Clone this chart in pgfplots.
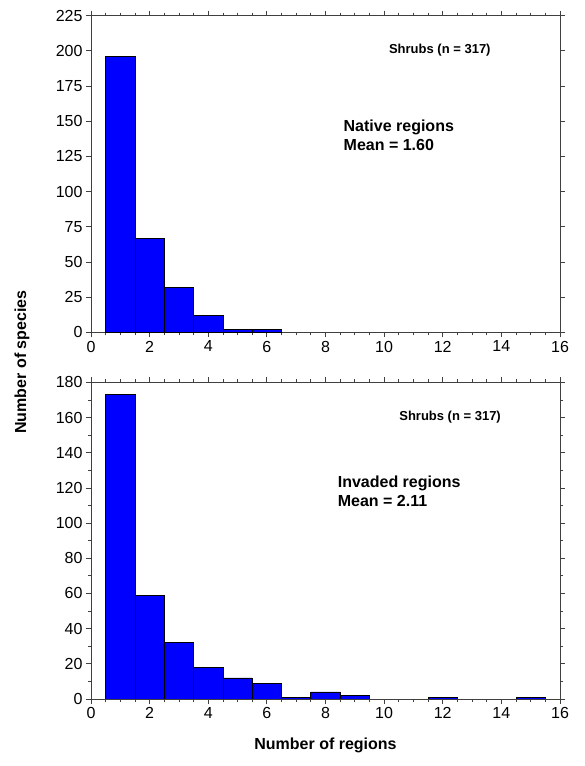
\documentclass[border=0pt]{standalone}
\usepackage{pgfplots}
\pgfplotsset{compat=1.18}
\usepackage{fontspec}
\setmainfont{Liberation Sans}

\pgfplotstableread{
x  n
1  196
2  67
3  32
4  12
5  2
6  2
}\native

\pgfplotstableread{
x  n
1  173
2  59
3  32
4  18
5  12
6  9
7  1
8  4
9  2
12 1
15 1
}\invaded

\pgfplotsset{
  histo/.style={
    scale only axis,
    width=469pt, height=316.6pt,
    anchor=south west,
    xmin=0, xmax=16,
    xtick={0,2,...,16},
    minor x tick num=3,
    ymin=0,
    tick align=outside,
    major tick length=5pt,
    minor tick length=3pt,
    axis line style={black!75, line width=0.9pt},
    every tick/.style={black!75, line width=0.8pt},
    tick label style={font=\fontsize{16}{16}\selectfont},
    /pgf/number format/assume math mode=true,
  },
  hbar/.style={ybar, bar width=1, fill=blue, draw=black, line width=0.7pt},
}

\begin{document}
\begin{tikzpicture}[x=1pt, y=1pt]
\path[use as bounding box] (0,0) rectangle (585,766);

% upper panel: native regions
\begin{axis}[histo, at={(91pt,433.7pt)},
  ymax=225, ytick={0,25,...,225}]
\addplot[hbar] table[x=x, y=n] {\native};
\node[font=\bfseries\fontsize{13}{13}\selectfont] at (axis cs:11.9,200.6) {Shrubs (n = 317)};
\node[font=\bfseries\fontsize{16}{19}\selectfont, align=left, anchor=west]
  at (axis cs:8.5,140) {Native regions\\Mean = 1.60};
\end{axis}

% lower panel: invaded regions
\begin{axis}[histo, at={(91pt,67pt)},
  ymax=180, ytick={0,20,...,180}, minor y tick num=1]
\addplot[hbar] table[x=x, y=n] {\invaded};
\node[font=\bfseries\fontsize{13}{13}\selectfont] at (axis cs:12.25,160) {Shrubs (n = 317)};
\node[font=\bfseries\fontsize{16}{19}\selectfont, align=left, anchor=west]
  at (axis cs:8.3,118) {Invaded regions\\Mean = 2.11};
\end{axis}

\node[font=\bfseries\fontsize{16}{16}\selectfont, rotate=90] at (22,404) {Number of species};
\node[font=\bfseries\fontsize{16}{16}\selectfont] at (325.5,21) {Number of regions};
\end{tikzpicture}
\end{document}
